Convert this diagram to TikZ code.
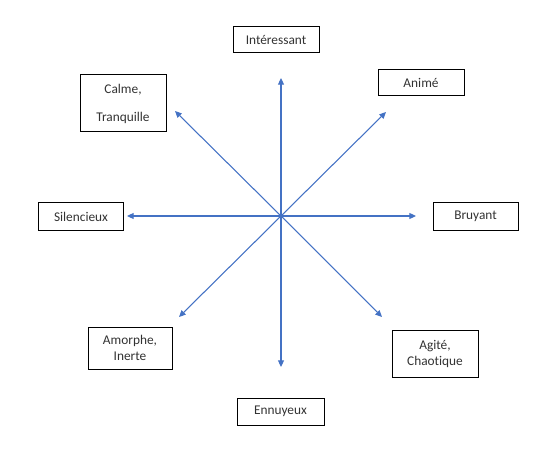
\documentclass[tikz,border=0pt]{standalone}
\usepackage{fontspec}
\setmainfont{Carlito}[Ligatures=NoCommon]
\usepackage{xcolor}
\usepackage{tikz}
\usetikzlibrary{arrows.meta}
\definecolor{AxeBlue}{RGB}{68,114,196}
\definecolor{TextGray}{RGB}{50,50,50}
\tikzset{
  % Cases des adjectifs
  box/.style={draw=black,line width=0.75pt,minimum width=64.5pt,minimum height=19.5pt,
    inner sep=0,align=center,text=TextGray,font=\fontsize{10}{12}\selectfont},
  % Axes
  axe/.style={-{Triangle[length=5pt,width=4.5pt]},line width=0.8pt,AxeBlue}
}
\begin{document}
\begin{tikzpicture}[x=0.75pt,y=-0.75pt]
    \useasboundingbox (0,0) rectangle (555,466);
    \node[box] (int) at (276,40) {Intéressant};
    \node[box,minimum height=42.75pt] (calme) at (123,103.5) {Calme,\\[9pt]Tranquille};
    \node[box] (anime) at (421,83) {Animé};
    \node[box,minimum width=63.75pt,minimum height=21pt] (sil) at (81,216.5) {Silencieux};
    \node[box,minimum width=63.75pt,minimum height=20.25pt] (bru) at (475.5,216.5) {Bruyant};
    \node[box,minimum width=63pt,minimum height=31.5pt] (amo) at (130,348) {Amorphe,\\Inerte};
    \node[box,minimum height=35.25pt] (agi) at (435,353.5) {Agité,\\Chaotique};
    \node[box,minimum width=65.25pt,minimum height=20.25pt] (enn) at (280.5,411.5) {Ennuyeux};
    % centre et pointes
    \coordinate (o) at (281,216);
    \coordinate (tN) at (281,78);
    \coordinate (tS) at (281,367);
    \coordinate (tW) at (127,216);
    \coordinate (tE) at (416,216);
    \coordinate (tNW) at (175,111);
    \coordinate (tNE) at (386,112);
    \coordinate (tSW) at (179,317);
    \coordinate (tSE) at (382,317);
    \foreach \t in {tN,tS,tW,tE,tNW,tNE,tSW,tSE}
      \draw[axe] (o) -- (\t);
\end{tikzpicture}
\end{document}
